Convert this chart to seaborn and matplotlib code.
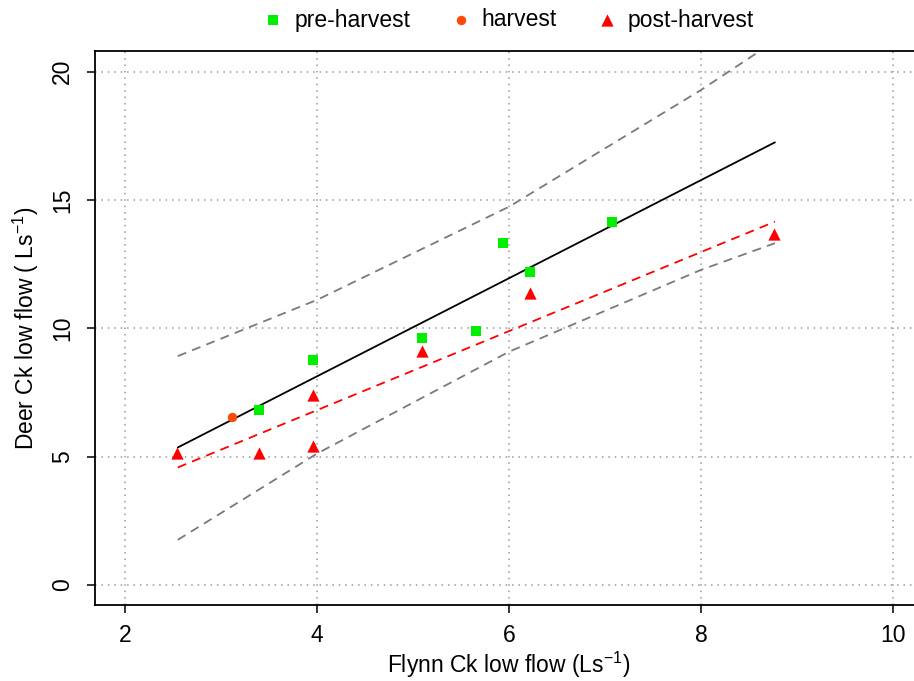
import matplotlib
matplotlib.use("Agg")
import matplotlib.pyplot as plt
import seaborn as sns

# ---- data ----
pre_x = [3.40, 3.96, 5.09, 5.66, 5.94, 6.22, 7.07]
pre_y = [6.82, 8.77, 9.64, 9.91, 13.34, 12.19, 14.16]
harv_x = [3.11]
harv_y = [6.55]
post_x = [2.54, 3.40, 3.96, 3.96, 5.09, 6.22, 8.76]
post_y = [5.13, 5.13, 5.42, 7.42, 9.12, 11.39, 13.67]

fit_x = [2.55, 8.77]
fit_all_y = [5.36, 17.25]
fit_post_y = [4.58, 14.16]

band_x = [2.55, 4.0, 6.0, 8.0, 8.77]
band_upper = [8.92, 11.11, 14.74, 19.29, 21.2]
band_lower = [1.76, 5.12, 9.09, 12.28, 13.32]

x_ticks = [2, 4, 6, 8, 10]
y_ticks = [0, 5, 10, 15, 20]
labels = ["pre-harvest", "harvest", "post-harvest"]

# ---- style ----
sns.set_theme(style="white")
plt.rcParams["font.family"] = ["Liberation Sans", "DejaVu Sans"]
plt.rcParams["mathtext.default"] = "regular"
plt.rcParams["text.color"] = "black"
plt.rcParams["axes.labelcolor"] = "black"
plt.rcParams["xtick.color"] = "black"
plt.rcParams["ytick.color"] = "black"
FS = 16.5

fig = plt.figure(figsize=(9.14, 6.81), dpi=100)
ax = fig.add_axes([95 / 914, 76 / 681, 1 - 95 / 914 + 0.01, 554 / 681])

grid_kw = dict(color="#9a9a9a", lw=1.1, linestyle=(0, (1, 3.2)), zorder=0)
for v in x_ticks:
    ax.axvline(v, **grid_kw)
for v in y_ticks:
    ax.axhline(v, **grid_kw)

line_kw = dict(ax=ax, legend=False, estimator=None, sort=False)
sns.lineplot(x=band_x, y=band_upper, color="#7a7a7a", lw=1.3,
             linestyle=(0, (5, 3.5)), **line_kw)
sns.lineplot(x=band_x, y=band_lower, color="#7a7a7a", lw=1.3,
             linestyle=(0, (5, 3.5)), **line_kw)
sns.lineplot(x=fit_x, y=fit_post_y, color="#ff0000", lw=1.3,
             linestyle=(0, (5, 3.5)), **line_kw)
sns.lineplot(x=fit_x, y=fit_all_y, color="black", lw=1.3, **line_kw)

sns.scatterplot(x=pre_x, y=pre_y, color="#00ee00", marker="s", s=62,
                linewidth=0, ax=ax, label=labels[0], zorder=5)
sns.scatterplot(x=harv_x, y=harv_y, color="#ff4a0a", marker="o", s=46,
                linewidth=0, ax=ax, label=labels[1], zorder=5)
sns.scatterplot(x=post_x, y=post_y, color="#ff0000", marker="^", s=78,
                linewidth=0, ax=ax, label=labels[2], zorder=5)

handles, labs = ax.get_legend_handles_labels()
ax.get_legend().remove()
fig.legend(handles, labs, loc="center", bbox_to_anchor=(509 / 914, 1 - 20 / 681),
           ncol=3, frameon=False, fontsize=FS, handlelength=0.8,
           handletextpad=0.5, columnspacing=1.8, borderpad=0.1)

ax.set_xlim(1.6875, 2 + (914 - 125) / 96 + 0.01 * 914 / 96)
ax.set_ylim(-0.78, 20.81)
ax.set_xticks(x_ticks)
ax.set_yticks(y_ticks)
ax.set_xticklabels([str(t) for t in x_ticks], fontsize=FS)
ax.set_yticklabels([str(t) for t in y_ticks], fontsize=FS, rotation=90, va="center")
ax.tick_params(axis="both", direction="out", length=6, width=1.1, color="black",
               labelcolor="black", left=True, bottom=True)
ax.tick_params(axis="x", pad=8)
ax.tick_params(axis="y", pad=9)

for side in ["left", "bottom", "top"]:
    ax.spines[side].set_visible(True)
    ax.spines[side].set_color("black")
    ax.spines[side].set_linewidth(1.3)
ax.spines["right"].set_visible(False)

ax.set_xlabel("Flynn Ck low flow (Ls$^{-1}$)", fontsize=FS, labelpad=2, color="black")
ax.set_ylabel("Deer Ck low flow ( Ls$^{-1}$)", fontsize=FS, labelpad=7, color="black")

fig.savefig("out.png", dpi=100)
